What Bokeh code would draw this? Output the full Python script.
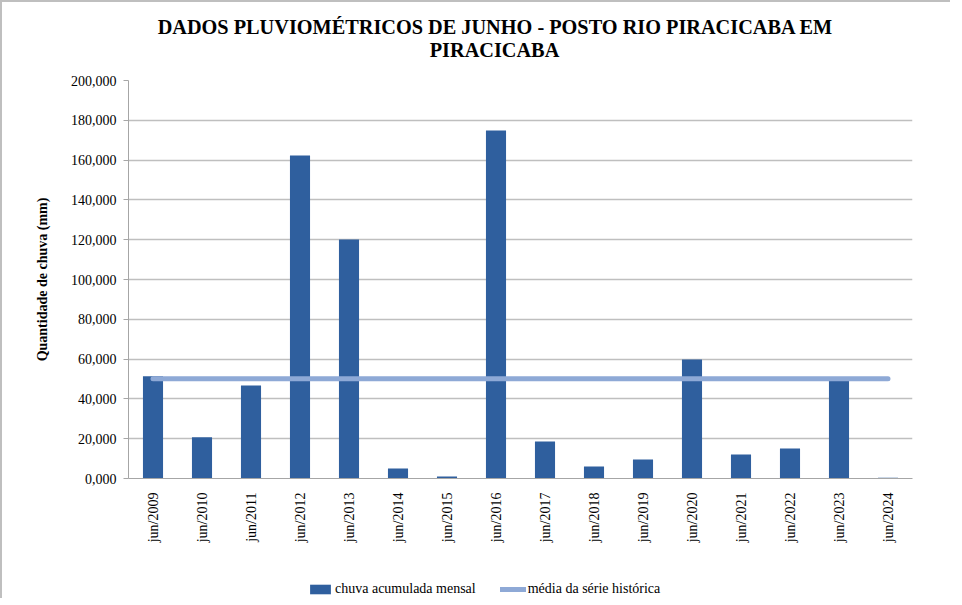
from bokeh.plotting import figure
from bokeh.layouts import column
from bokeh.models import (FactorRange, Range1d, Label, Legend, LegendItem,
                          FixedTicker, ColumnDataSource)
from bokeh.embed import file_html
from bokeh.resources import INLINE
import math

# ---- data ----
categories = ["jun/2009", "jun/2010", "jun/2011", "jun/2012", "jun/2013", "jun/2014",
              "jun/2015", "jun/2016", "jun/2017", "jun/2018", "jun/2019", "jun/2020",
              "jun/2021", "jun/2022", "jun/2023", "jun/2024"]
chuva = [51.4, 20.7, 46.7, 162.3, 120.1, 5.0, 1.0, 174.9, 18.6, 6.0, 9.5, 59.8,
         12.1, 15.1, 49.6, 0.4]
media = [50.1] * len(categories)
y_ticks = [0, 20, 40, 60, 80, 100, 120, 140, 160, 180, 200]
y_tick_labels = ["0,000", "20,000", "40,000", "60,000", "80,000", "100,000",
                 "120,000", "140,000", "160,000", "180,000", "200,000"]
title_lines = ["DADOS PLUVIOMÉTRICOS DE JUNHO - POSTO RIO PIRACICABA EM", "PIRACICABA"]
legend_labels = ["chuva acumulada mensal", "média da série histórica"]

FONT = "Liberation Serif"
BAR_COLOR = "#2F5F9E"
LINE_COLOR = "#8EA9D6"
FRAME_STYLE = "2px solid #BFBFBF"
W = 950
FRAME_X = (128, 912)   # page pixel extent of the plotting frame (frames are aligned in the column)

# ---- title strip ----
p0 = figure(width=W, height=64, output_backend="svg", toolbar_location=None,
            x_range=Range1d(*FRAME_X), y_range=Range1d(0, 64), min_border=0,
            x_axis_type=None, y_axis_type=None)
p0.outline_line_color = None
p0.xgrid.visible = False
p0.ygrid.visible = False
p0.styles = {"border-left": FRAME_STYLE, "border-top": FRAME_STYLE}
for txt, xx, yy in [(title_lines[0], 495, 40), (title_lines[1], 494, 17)]:
    p0.add_layout(Label(x=xx, y=yy, text=txt, text_font=FONT, text_font_size="20.3px",
                        text_font_style="bold", text_color="#000000",
                        text_align="center", text_baseline="middle"))

# ---- main chart ----
p = figure(width=W, height=488, output_backend="svg", toolbar_location=None,
           x_range=FactorRange(factors=categories, range_padding=0),
           y_range=Range1d(0, 200),
           min_border_left=126, min_border_right=40, min_border_top=16,
           min_border_bottom=74)
p.outline_line_color = None
p.styles = {"border-left": FRAME_STYLE}

src = ColumnDataSource(dict(x=categories, chuva=chuva, media=media))
p.vbar(x="x", top="chuva", width=0.41, source=src, fill_color=BAR_COLOR, line_color=None)
p.line(x="x", y="media", source=src, line_color=LINE_COLOR, line_width=5, line_cap="round")

p.xgrid.grid_line_color = None
p.ygrid.grid_line_color = "#BFBFBF"
p.ygrid.grid_line_width = 1.3

p.yaxis.ticker = FixedTicker(ticks=y_ticks)
p.yaxis.major_label_overrides = {t: l for t, l in zip(y_ticks, y_tick_labels)}
p.yaxis.axis_line_color = "#A6A6A6"
p.yaxis.major_tick_line_color = "#A6A6A6"
p.yaxis.major_tick_out = 5
p.yaxis.major_tick_in = 0
p.yaxis.minor_tick_line_color = None
p.yaxis.major_label_text_font = FONT
p.yaxis.major_label_text_font_size = "14px"
p.yaxis.major_label_text_color = "#000000"
p.yaxis.major_label_standoff = 7
p.yaxis.axis_label = "Quantidade de chuva (mm)"
p.yaxis.axis_label_text_font = FONT
p.yaxis.axis_label_text_font_size = "14px"
p.yaxis.axis_label_text_font_style = "bold"
p.yaxis.axis_label_text_color = "#000000"
p.yaxis.axis_label_standoff = 18

p.xaxis.axis_line_color = "#A6A6A6"
p.xaxis.major_tick_line_color = None
p.xaxis.minor_tick_line_color = None
p.xaxis.major_label_orientation = math.pi / 2
p.xaxis.major_label_text_font = FONT
p.xaxis.major_label_text_font_size = "14px"
p.xaxis.major_label_text_color = "#000000"
p.xaxis.major_label_standoff = 8

# ---- legend strip ----
p2 = figure(width=W, height=46, output_backend="svg", toolbar_location=None,
            x_range=Range1d(*FRAME_X), y_range=Range1d(0, 1), min_border=0,
            x_axis_type=None, y_axis_type=None)
p2.outline_line_color = None
p2.xgrid.visible = False
p2.ygrid.visible = False
p2.styles = {"border-left": FRAME_STYLE}
# legend proxies kept outside the visible ranges
lb = p2.vbar(x=[0], top=[-5], bottom=[-6], width=0.5, fill_color=BAR_COLOR, line_color=None)
ll = p2.line(x=[0, 1], y=[-5, -5], line_color=LINE_COLOR, line_width=5, line_cap="round")
legend = Legend(items=[LegendItem(label=legend_labels[0], renderers=[lb]),
                       LegendItem(label=legend_labels[1], renderers=[ll])],
                orientation="horizontal", location=(179, 1),
                label_text_font=FONT, label_text_font_size="14px",
                label_text_color="#000000", glyph_width=26, glyph_height=12,
                label_standoff=2, spacing=24, padding=0, margin=0,
                border_line_color=None, background_fill_alpha=0)
p2.add_layout(legend, "center")

layout = column(p0, p, p2, spacing=0)
open("out.html", "w").write(file_html(layout, INLINE))
